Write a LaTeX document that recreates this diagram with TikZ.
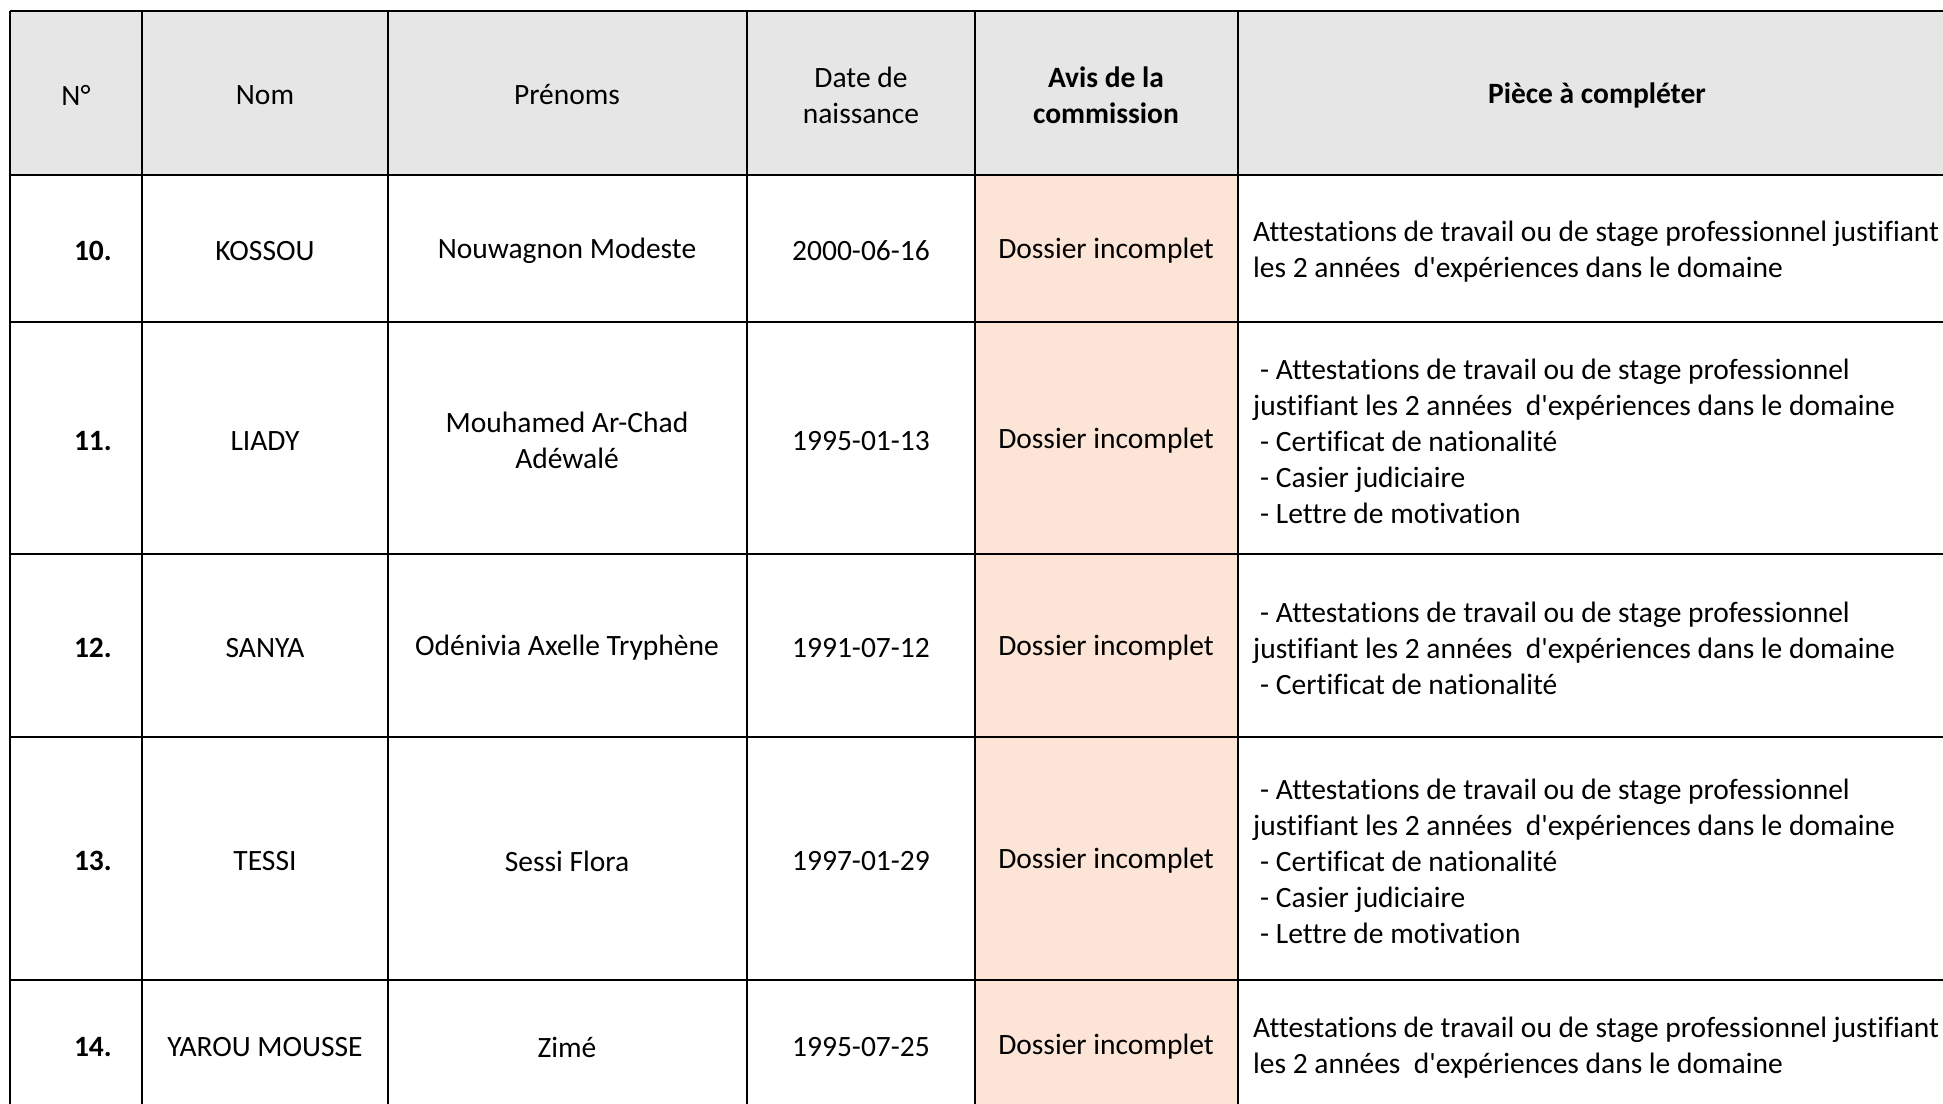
\documentclass[tikz,border=0pt]{standalone}
\usepackage{fontspec}
\setmainfont{Carlito}[Ligatures={NoCommon}]
\definecolor{hdrgray}{HTML}{E7E6E6}
\definecolor{avispink}{HTML}{FCE4D6}
\newcommand{\ind}{\hspace*{7pt}}
\newcommand{\ap}{\textquotesingle}
\begin{document}
\begin{tikzpicture}[x=1pt,y=-1pt,
  txt/.style={inner sep=0pt, font=\fontsize{29.5}{36}\selectfont},
  ctr/.style={txt, align=center},
  bctr/.style={ctr, font=\fontsize{29.5}{36}\selectfont\bfseries},
  lft/.style={txt, align=left, anchor=west},
  num/.style={txt, anchor=east, font=\fontsize{29.5}{36}\selectfont\bfseries},
  gridline/.style={line width=2.3pt, black}]
\useasboundingbox (0,0) rectangle (1943,1103);
\clip (0,0) rectangle (1943,1103);
\fill[white] (0,0) rectangle (1943,1103);
% fills
\fill[hdrgray] (10,11) rectangle (1960,175);
\fill[avispink] (975,175) rectangle (1238,1120);
% grid
\foreach \yy in {11,175,322,554,737,980}
  \draw[gridline] (10,\yy) -- (1960,\yy);
\foreach \xx in {10,142,388,747,975,1238}
  \draw[gridline] (\xx,11) -- (\xx,1120);
% header
\node[ctr] (hN) at (76,95) {N°};
\node[ctr] (hNom) at (265,95) {Nom};
\node[ctr] (hPre) at (567,95) {Prénoms};
\node[ctr] (hDate) at (861,95) {Date de\\naissance};
\node[bctr] (hAvis) at (1106,95) {Avis de la\\commission};
\node[bctr] (hPiece) at (1597,95) {Pièce à compléter};
% row 10
\node[num] (n10) at (112,251) {10.};
\node[ctr] (nom10) at (265,251) {KOSSOU};
\node[ctr] (pre10) at (567,251) {Nouwagnon Modeste};
\node[ctr] (d10) at (861,251) {2000-06-16};
\node[ctr] (a10) at (1106,251) {Dossier incomplet};
\node[lft] (p10) at (1253,252) {Attestations de travail ou de stage professionnel justifiant\\les 2 années\ \ d\ap expériences dans le domaine};
% row 11
\node[num] (n11) at (112,441) {11.};
\node[ctr] (nom11) at (265,441) {LIADY};
\node[ctr] (pre11) at (567,440) {Mouhamed Ar-Chad\\Adéwalé};
\node[ctr] (d11) at (861,441) {1995-01-13};
\node[ctr] (a11) at (1106,441) {Dossier incomplet};
\node[lft] (p11) at (1253,441) {\ind- Attestations de travail ou de stage professionnel\\justifiant les 2 années\ \ d\ap expériences dans le domaine\\\ind- Certificat de nationalité\\\ind- Casier judiciaire\\\ind- Lettre de motivation};
% row 12
\node[num] (n12) at (112,648) {12.};
\node[ctr] (nom12) at (265,648) {SANYA};
\node[ctr] (pre12) at (567,648) {Odénivia Axelle Tryphène};
\node[ctr] (d12) at (861,648) {1991-07-12};
\node[ctr] (a12) at (1106,648) {Dossier incomplet};
\node[lft] (p12) at (1253,648) {\ind- Attestations de travail ou de stage professionnel\\justifiant les 2 années\ \ d\ap expériences dans le domaine\\\ind- Certificat de nationalité};
% row 13
\node[num] (n13) at (112,861) {13.};
\node[ctr] (nom13) at (265,861) {TESSI};
\node[ctr] (pre13) at (567,861) {Sessi Flora};
\node[ctr] (d13) at (861,861) {1997-01-29};
\node[ctr] (a13) at (1106,861) {Dossier incomplet};
\node[lft] (p13) at (1253,861) {\ind- Attestations de travail ou de stage professionnel\\justifiant les 2 années\ \ d\ap expériences dans le domaine\\\ind- Certificat de nationalité\\\ind- Casier judiciaire\\\ind- Lettre de motivation};
% row 14
\node[num] (n14) at (112,1047) {14.};
\node[ctr] (nom14) at (265,1047) {YAROU MOUSSE};
\node[ctr] (pre14) at (567,1047) {Zimé};
\node[ctr] (d14) at (861,1047) {1995-07-25};
\node[ctr] (a14) at (1106,1047) {Dossier incomplet};
\node[lft] (p14) at (1253,1048) {Attestations de travail ou de stage professionnel justifiant\\les 2 années\ \ d\ap expériences dans le domaine};
\end{tikzpicture}
\end{document}
